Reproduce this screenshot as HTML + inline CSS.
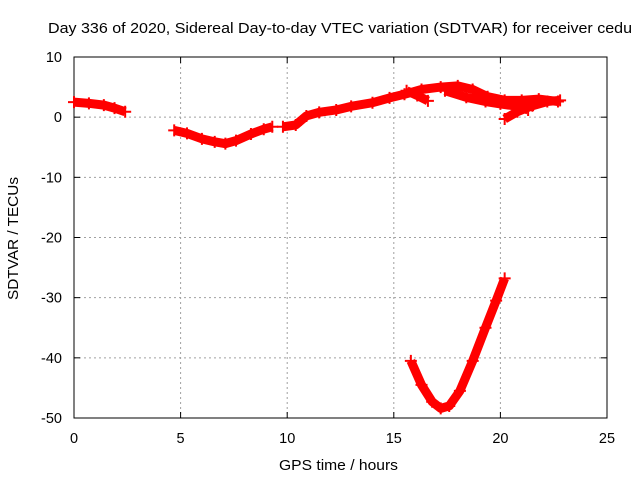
<!DOCTYPE html>
<html><head><meta charset="utf-8"><style>
body{margin:0;background:#fff;}
svg{display:block;font-family:"Liberation Sans",sans-serif;}
</style></head><body>
<svg id="c" width="640" height="480"></svg>
<script>
const xTicks=[0,5,10,15,20,25];
const yTicks=[10,0,-10,-20,-30,-40,-50];
const trackA=[[0,2.5],[0.7,2.3],[1.4,2.0],[1.9,1.5],[2.4,0.9]];
const trackB=[[4.7,-2.2],[5.3,-2.7],[6,-3.6],[6.6,-4.1],[7.1,-4.4],[7.6,-3.9],[8.3,-2.8],[8.9,-2.0],[9.3,-1.6]];
const trackC=[[9.8,-1.6],[10.4,-1.3],[10.9,0.2],[11.5,0.8],[12.3,1.2],[13,1.8],[14,2.4],[14.8,3.2],[15.5,3.8],[16.3,4.6],[17.2,5.0],[18,5.2],[18.7,4.6],[19.4,3.4],[20.2,2.8],[21,2.8],[21.8,3.0],[22.7,2.6]];
const trackD=[[15.6,4.4],[16.1,3.6],[16.6,2.7]];
const trackE=[[17.4,4.4],[18.4,3.3],[19.3,2.6],[20,2.2],[20.8,1.8],[21.3,1.2]];
const trackF=[[20.2,-0.3],[20.8,0.9],[21.5,1.9],[22.2,2.6],[22.8,2.8]];
const trackV=[[15.8,-40.5],[16.3,-44.5],[16.8,-47.3],[17.2,-48.4],[17.6,-48],[18.1,-45.5],[18.7,-40.5],[19.3,-35],[19.8,-30.5],[20.2,-26.8]];
const tracks=[trackA,trackB,trackC,trackD,trackE,trackF,trackV];
const NS="http://www.w3.org/2000/svg";
const svg=document.getElementById('c');
const L=74,R=607,T=57,B=418;
const xs=h=>L+(h-0)/25*(R-L);
const ys=v=>T+(10-v)/60*(B-T);
function mk(t,a,p){const e=document.createElementNS(NS,t);for(const k in a)e.setAttribute(k,a[k]);(p||svg).appendChild(e);return e;}
xTicks.forEach(t=>{
 if(t>0&&t<25){const g=mk('line',{x1:xs(t),x2:xs(t),y1:T,y2:B,stroke:'#a0a0a0','stroke-dasharray':'2,3'});
 
 }
 const tx=mk('text',{x:xs(t),y:B+25,'text-anchor':'middle','font-size':14.5});tx.textContent=t;
 
 
 mk('line',{x1:xs(t),x2:xs(t),y1:B,y2:B-6,stroke:'#000'});mk('line',{x1:xs(t),x2:xs(t),y1:T,y2:T+6,stroke:'#000'});
});
yTicks.forEach(t=>{
 if(t<10&&t>-50){const g=mk('line',{x1:L,x2:R,y1:ys(t),y2:ys(t),stroke:'#a0a0a0','stroke-dasharray':'2,3'});
 
 }
 const tx=mk('text',{x:L-12,y:ys(t)+5,'text-anchor':'end','font-size':14.5});tx.textContent=t;
 
 
 mk('line',{x1:L,x2:L+6,y1:ys(t),y2:ys(t),stroke:'#000'});mk('line',{x1:R,x2:R-6,y1:ys(t),y2:ys(t),stroke:'#000'});
});
const fr=mk('rect',{x:L,y:T,width:R-L,height:B-T,fill:'none',stroke:'#000'});


tracks.forEach(tr=>{
 const pl=mk('polyline',{points:tr.map(p=>xs(p[0])+','+ys(p[1])).join(' '),fill:'none',stroke:'#ff0000','stroke-width':9,'stroke-linejoin':'round','stroke-linecap':'butt'});
 
 
 tr.forEach(p=>{
  const x=xs(p[0]),y=ys(p[1]);
  const m=mk('path',{d:`M${x-6},${y}H${x+6}M${x},${y-6}V${y+6}`,stroke:'#ff0000','stroke-width':2});
  
  
 });
});
const ti=mk('text',{x:48,y:33,'font-size':14.5,textLength:584,lengthAdjust:'spacingAndGlyphs'});ti.textContent='Day 336 of 2020, Sidereal Day-to-day VTEC variation (SDTVAR) for receiver cedu';


const xl=mk('text',{x:279,y:470,'font-size':14.5,textLength:119,lengthAdjust:'spacingAndGlyphs'});xl.textContent='GPS time / hours';


const yl=mk('text',{x:0,y:0,'font-size':14.5,textLength:123,lengthAdjust:'spacingAndGlyphs',transform:'translate(18,300) rotate(-90)'});yl.textContent='SDTVAR / TECUs';


</script>
</body></html>
